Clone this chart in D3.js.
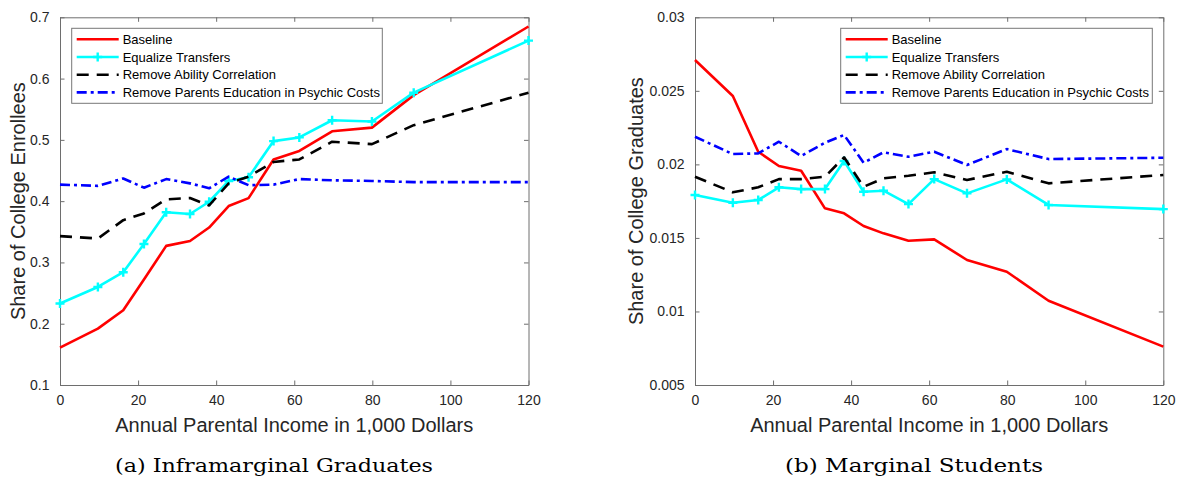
<!DOCTYPE html>
<html>
<head>
<meta charset="utf-8">
<script src="https://cdn.jsdelivr.net/npm/d3@7"></script>
<style>
  html, body { margin: 0; padding: 0; background: #fff; }
  svg { display: block; }
  .sans { font-family: "Liberation Sans", Arial, Helvetica, sans-serif; fill: #262626; }
  .caption { font-family: "DejaVu Serif", "Liberation Serif", serif; fill: #000; }
</style>
</head>
<body>
<svg id="chart" width="1177" height="478"></svg>
<script>
// ---------- Data ----------
const income = [0, 9.7, 16.2, 21.5, 27.2, 33.3, 38.2, 43.2, 48.3, 54.7, 61.3, 69.7, 79.9, 90.6, 120];

const seriesNames = ["Baseline", "Equalize Transfers", "Remove Ability Correlation", "Remove Parents Education in Psychic Costs"];

// Panel (a): Share of College Enrollees
const enrollBaseline  = [0.161, 0.192, 0.222, 0.272, 0.327, 0.335, 0.357, 0.392, 0.405, 0.468, 0.482, 0.514, 0.520, 0.573, 0.685];
const enrollEqualize  = [0.233, 0.260, 0.284, 0.330, 0.382, 0.379, 0.399, 0.433, 0.439, 0.498, 0.504, 0.532, 0.530, 0.577, 0.662];
const enrollAbility   = [0.343, 0.339, 0.369, 0.380, 0.403, 0.405, 0.393, 0.429, 0.440, 0.464, 0.468, 0.497, 0.493, 0.524, 0.577];
const enrollParentEdu = [0.427, 0.425, 0.437, 0.422, 0.436, 0.429, 0.421, 0.440, 0.426, 0.427, 0.436, 0.434, 0.433, 0.431, 0.431];

// Panel (b): Share of College Graduates
const gradBaseline  = [0.0271, 0.02465, 0.02086, 0.01989, 0.01957, 0.01701, 0.01667, 0.01581, 0.01531, 0.01481, 0.01490, 0.01350, 0.01270, 0.01073, 0.00761];
const gradEqualize  = [0.01792, 0.01739, 0.01758, 0.01844, 0.01832, 0.01832, 0.02023, 0.01814, 0.01821, 0.01730, 0.01900, 0.01803, 0.01898, 0.01724, 0.01696];
const gradAbility   = [0.01916, 0.01810, 0.01844, 0.01900, 0.01900, 0.01916, 0.02048, 0.01848, 0.01905, 0.01923, 0.01946, 0.01894, 0.01950, 0.01871, 0.01928];
const gradParentEdu = [0.02188, 0.02070, 0.02075, 0.02154, 0.02057, 0.02147, 0.02200, 0.02011, 0.02082, 0.02052, 0.02086, 0.01996, 0.02104, 0.02036, 0.02045];

const xTicks = [0, 20, 40, 60, 80, 100, 120];
const yTicksA = [0.1, 0.2, 0.3, 0.4, 0.5, 0.6, 0.7];
const yTickLabelsA = ["0.1", "0.2", "0.3", "0.4", "0.5", "0.6", "0.7"];
const yTicksB = [0.005, 0.01, 0.015, 0.02, 0.025, 0.03];
const yTickLabelsB = ["0.005", "0.01", "0.015", "0.02", "0.025", "0.03"];

const xLabel = "Annual Parental Income in 1,000 Dollars";
const yLabelA = "Share of College Enrollees";
const yLabelB = "Share of College Graduates";
const captionA = "(a) Inframarginal Graduates";
const captionB = "(b) Marginal Students";

// ---------- Styles ----------
const styles = [
  { color: "#ff0000", dash: null, marker: false },
  { color: "#00ffff", dash: null, marker: true },
  { color: "#000000", dash: "12,8", marker: false },
  { color: "#0000ff", dash: "10,4,3,4", marker: false }
];

const svg = d3.select("#chart");
const axisColor = "#6e6e6e";
const tickLen = 4.5;

function panel(opts) {
  const { left, right, top, bottom, yDomain, yTicks, yTickLabels, series, yLabel, yLabelX, legend, caption, captionX, captionW } = opts;
  const x = d3.scaleLinear().domain([0, 120]).range([left, right]);
  const y = d3.scaleLinear().domain(yDomain).range([bottom, top]);
  const g = svg.append("g");

  // Axes
  const ax = [
    { gen: d3.axisBottom(x).tickValues(xTicks).tickFormat(d3.format("d")), tr: `translate(0,${bottom})` },
    { gen: d3.axisTop(x).tickValues(xTicks).tickFormat(""), tr: `translate(0,${top})` },
    { gen: d3.axisLeft(y).tickValues(yTicks).tickFormat((d, i) => yTickLabels[i]), tr: `translate(${left},0)` },
    { gen: d3.axisRight(y).tickValues(yTicks).tickFormat(""), tr: `translate(${right},0)` }
  ];
  ax.forEach(a => {
    a.gen.tickSizeInner(-tickLen).tickSizeOuter(0).tickPadding(tickLen + 6);
    const ag = g.append("g").attr("transform", a.tr).call(a.gen);
    ag.attr("font-family", null).attr("font-size", null);
    ag.select(".domain").attr("stroke", axisColor).attr("stroke-width", 1);
    ag.selectAll(".tick line").attr("stroke", axisColor).attr("stroke-width", 1);
    ag.selectAll(".tick text").attr("class", "sans").attr("font-size", 14).attr("fill", "#262626");
  });

  // Lines
  const line = d3.line().x((d, i) => x(income[i])).y(d => y(d));
  series.forEach((vals, k) => {
    const st = styles[k];
    const p = g.append("path").datum(vals)
      .attr("d", line)
      .attr("fill", "none")
      .attr("stroke", st.color)
      .attr("stroke-width", 2.6)
      .attr("stroke-linejoin", "round");
    if (st.dash) p.attr("stroke-dasharray", st.dash);
    if (st.marker) {
      g.append("g").selectAll("path").data(vals).join("path")
        .attr("d", (d, i) => {
          const cx = x(income[i]), cy = y(d), r = 4.5;
          return `M${cx - r},${cy}H${cx + r}M${cx},${cy - r}V${cy + r}`;
        })
        .attr("stroke", st.color).attr("stroke-width", 2.4).attr("fill", "none");
    }
  });

  // Axis labels
  g.append("text").attr("class", "sans")
    .attr("x", (left + right) / 2).attr("y", 432)
    .attr("text-anchor", "middle").attr("font-size", 20)
    .text(xLabel);
  g.append("text").attr("class", "sans")
    .attr("transform", `translate(${yLabelX},${(top + bottom) / 2}) rotate(-90)`)
    .attr("text-anchor", "middle").attr("font-size", 20)
    .text(yLabel);

  // Legend
  const lg = g.append("g");
  lg.append("rect")
    .attr("x", legend.x).attr("y", legend.y).attr("width", legend.w).attr("height", legend.h)
    .attr("fill", "#fff").attr("stroke", "#777").attr("stroke-width", 1);
  seriesNames.forEach((name, k) => {
    const st = styles[k];
    const cy = legend.y + 11 + k * 17.7;
    const x0 = legend.x + 5, x1 = legend.x + 47;
    const l = lg.append("line").attr("x1", x0).attr("x2", x1).attr("y1", cy).attr("y2", cy)
      .attr("stroke", st.color).attr("stroke-width", 2.6);
    if (st.dash) l.attr("stroke-dasharray", st.dash);
    if (st.marker) {
      const mx = (x0 + x1) / 2;
      lg.append("path").attr("d", `M${mx - 4.5},${cy}H${mx + 4.5}M${mx},${cy - 4.5}V${cy + 4.5}`)
        .attr("stroke", st.color).attr("stroke-width", 2.4);
    }
    lg.append("text").attr("class", "sans").attr("x", legend.x + 51).attr("y", cy).attr("dy", "0.35em")
      .attr("font-size", 13).style("fill", "#000").text(name);
  });

  // Caption
  svg.append("text").attr("class", "caption")
    .attr("x", captionX).attr("y", 472)
    .attr("font-size", 18)
    .attr("textLength", captionW).attr("lengthAdjust", "spacingAndGlyphs")
    .text(caption);
}

panel({
  left: 60, right: 528.5, top: 17.3, bottom: 385,
  yDomain: [0.1, 0.7], yTicks: yTicksA, yTickLabels: yTickLabelsA,
  series: [enrollBaseline, enrollEqualize, enrollAbility, enrollParentEdu],
  yLabel: yLabelA, yLabelX: 25,
  legend: { x: 71.7, y: 28.3, w: 310.6, h: 75 },
  caption: captionA, captionX: 115, captionW: 318
});

panel({
  left: 695, right: 1163.3, top: 17.3, bottom: 385,
  yDomain: [0.005, 0.03], yTicks: yTicksB, yTickLabels: yTickLabelsB,
  series: [gradBaseline, gradEqualize, gradAbility, gradParentEdu],
  yLabel: yLabelB, yLabelX: 643,
  legend: { x: 840.7, y: 28.3, w: 311.6, h: 75 },
  caption: captionB, captionX: 785, captionW: 258
});
</script>
</body>
</html>
